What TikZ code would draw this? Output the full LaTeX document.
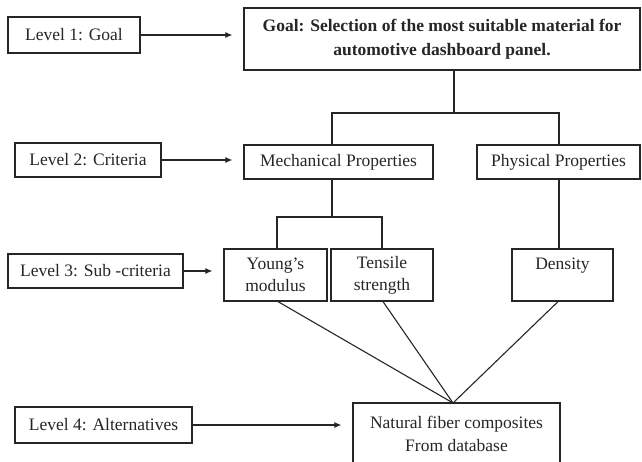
\documentclass[tikz,border=0pt]{standalone}
\usepackage{fontspec}
\setmainfont{Liberation Serif}
\usetikzlibrary{arrows.meta,calc}
\definecolor{ink}{HTML}{262626}
\begin{document}
\begin{tikzpicture}[x=1pt,y=-1pt,
  box/.style={draw=ink,line width=1.2pt,rectangle,inner sep=0pt,align=center,
              font=\fontsize{17.5}{22}\selectfont,text=ink},
  conn/.style={draw=ink,line width=1.1pt},
  arr/.style={conn,-{Latex[length=7pt,width=6pt]},shorten >=11pt}]
\useasboundingbox (0,0) rectangle (642,461);
\clip (0,0) rectangle (642,461);
\fill[white] (0,0) rectangle (642,461);

% level labels
\node[box,minimum width=132pt,minimum height=36pt] (l1) at (74,35) {Level 1: Goal};
\node[box,minimum width=146pt,minimum height=34pt] (l2) at (88,160) {Level 2: Criteria};
\node[box,minimum width=175pt,minimum height=34pt] (l3) at (95.5,271) {Level 3: Sub -criteria};
\node[box,minimum width=177pt,minimum height=36pt] (l4) at (103.5,425) {Level 4: Alternatives};

% hierarchy
\node[box,minimum width=396pt,minimum height=62pt,font=\fontsize{17.5}{24}\selectfont\bfseries] (goal) at (442,39)
  {Goal: Selection of the most suitable material for\\automotive dashboard panel.};
\node[box,minimum width=189pt,minimum height=34pt] (mech) at (338.5,162) {Mechanical Properties};
\node[box,minimum width=163pt,minimum height=34pt] (phys) at (558.5,162) {Physical Properties};
\node[box,minimum width=103pt,minimum height=52pt] (young) at (275.5,275) {Young's\\modulus};
\node[box,minimum width=102pt,minimum height=52pt] (tensile) at (382,275) {Tensile\\strength};
\node[box,minimum width=101pt,minimum height=52pt] (density) at (562.5,275) {Density\\\phantom{x}};
\node[box,minimum width=207pt,minimum height=62pt,font=\fontsize{17.5}{23}\selectfont] (natural) at (456.5,434)
  {Natural fiber composites\\From database};

% level arrows
\draw[arr] (l1.east) -- (l1.east -| goal.west);
\draw[arr] (l2.east) -- (l2.east -| mech.west);
\draw[arr] (l3.east) -- (l3.east -| young.west);
\draw[arr] (l4.east) -- (l4.east -| natural.west);

% tree connectors
\coordinate (g) at (454,113);
\coordinate (hL) at (332,113);
\coordinate (hR) at (559,113);
\draw[conn] (goal.south -| g) -- (g);
\draw[conn] (hL |- mech.north) -- (hL) -- (hR) -- (hR |- phys.north);
\coordinate (m) at (332,217);
\coordinate (mL) at (277,217);
\coordinate (mR) at (382,217);
\draw[conn] (mech.south -| m) -- (m);
\draw[conn] (mL |- young.north) -- (mL) -- (mR) -- (mR |- tensile.north);
\draw[conn] (hR |- phys.south) -- (hR |- density.north);

% converging lines
\coordinate (cv) at (453,403);
\draw[conn] (young.south -| 278,0) -- (cv);
\draw[conn] (tensile.south -| 383,0) -- (cv);
\draw[conn] (density.south -| 558,0) -- (cv);
\end{tikzpicture}
\end{document}
